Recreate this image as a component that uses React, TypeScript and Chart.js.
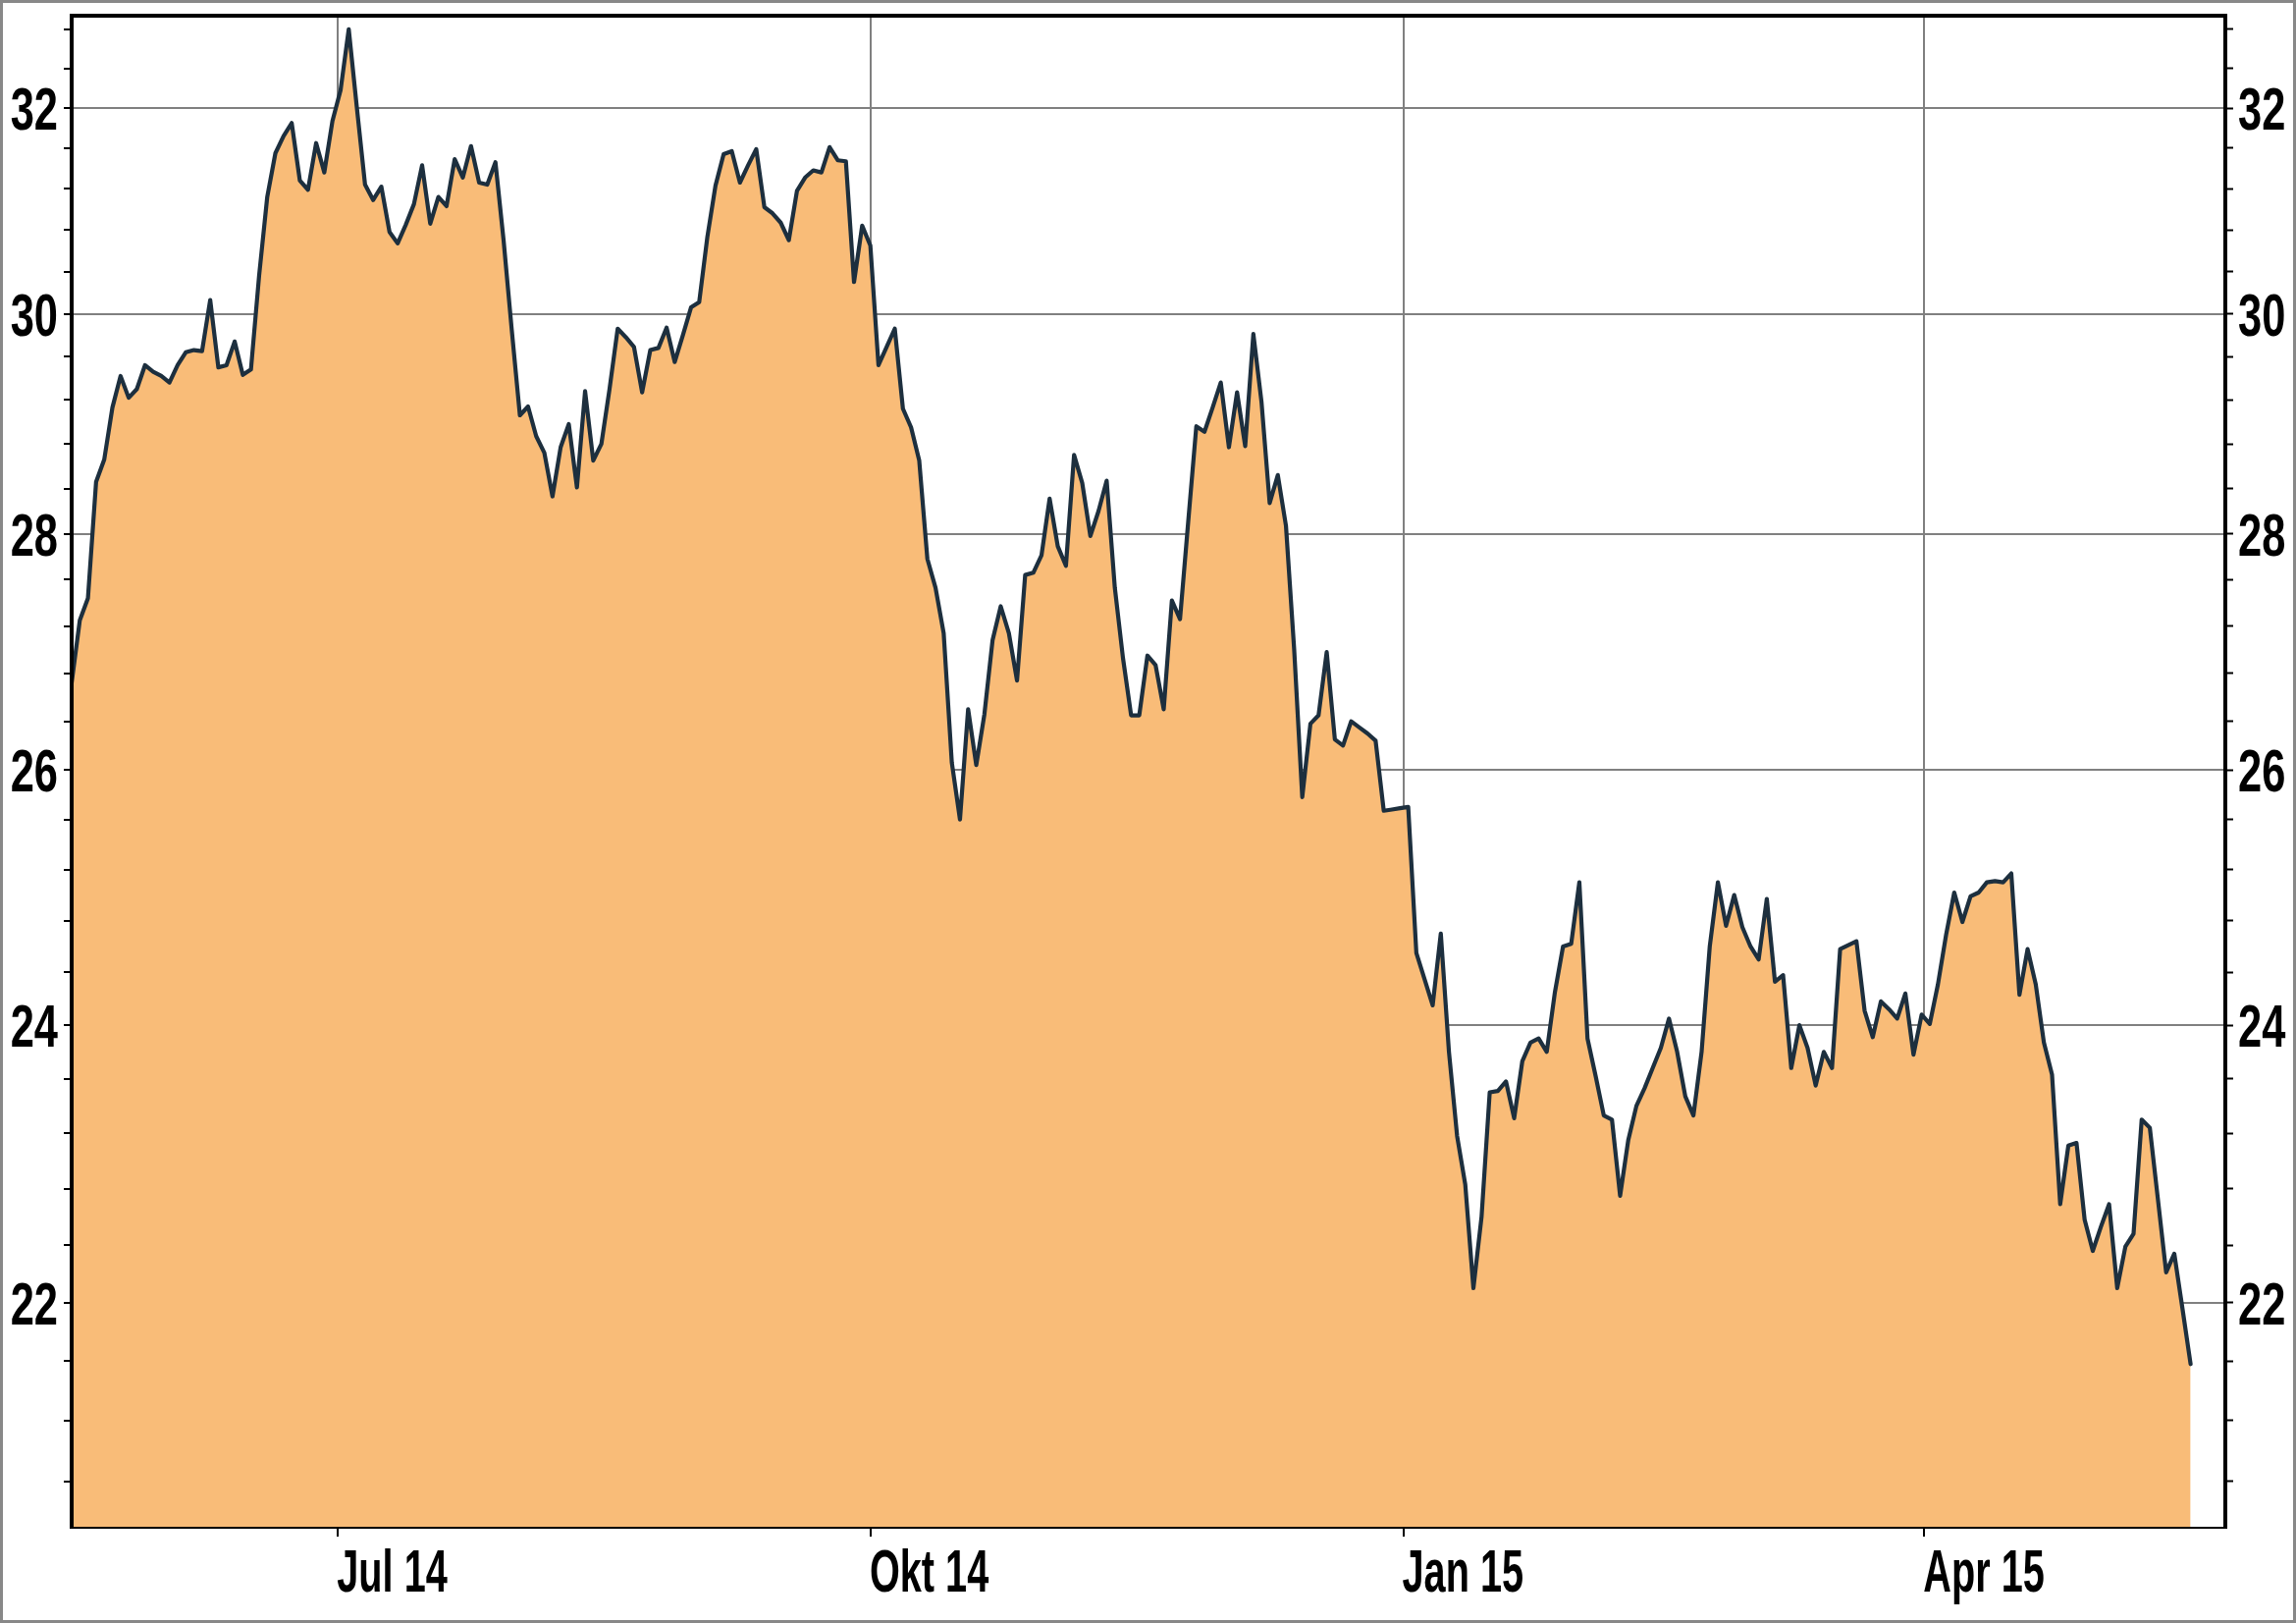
import React, { useEffect, useRef } from 'react';
import { Chart, registerables } from 'chart.js';

Chart.register(...registerables);

// ---------- data ----------
const START_DATE = '2014-05-16'; // first close shown
const END_DATE = '2015-05-17'; // last close shown (closes spread evenly in between)
const AXIS_END_DATE = '2015-05-23'; // time axis runs a few days past the last close

const PRICES: number[] = [
  // 0-45
  26.72, 27.25, 27.44, 28.46, 28.66, 29.13, 29.42, 29.22, 29.30, 29.52,
  29.46, 29.42, 29.36, 29.52, 29.64, 29.66, 29.65, 30.13, 29.50, 29.52,
  29.74, 29.43, 29.48, 30.36, 31.12, 31.55, 31.72, 31.85, 31.28, 31.19,
  31.65, 31.36, 31.87, 32.18, 32.80, 32.00, 31.24, 31.09, 31.22, 30.78,
  30.67, 30.85, 31.05, 31.43, 30.86, 31.12,
  // 46-90
  31.03, 31.49, 31.31, 31.62, 31.26, 31.24, 31.46, 30.70, 29.85, 29.06,
  29.14, 28.87, 28.72, 28.33, 28.77, 28.98, 28.41, 29.28, 28.65, 28.80,
  29.30, 29.86, 29.78, 29.69, 29.27, 29.66, 29.68, 29.87, 29.55, 29.80,
  30.06, 30.11, 30.73, 31.23, 31.54, 31.57, 31.26, 31.43, 31.59, 31.02,
  30.96, 30.87, 30.70, 31.18, 31.31,
  // 91-135
  31.38, 31.36, 31.61, 31.48, 31.47, 30.30, 30.84, 30.65, 29.52,
  29.69, 29.86, 29.12, 28.95, 28.65, 27.78, 27.53, 27.14, 26.06, 25.60,
  26.50, 26.04, 26.46, 27.08, 27.37, 27.14, 26.74, 27.64, 27.66, 27.81,
  28.31, 27.89, 27.72, 28.70, 28.45, 27.98, 28.20, 28.47, 27.53, 26.93,
  26.45, 26.45, 26.95, 26.87, 26.50, 27.42,
  // 136-150
  27.26, 28.10, 28.96, 28.91, 29.13, 29.36, 28.77, 29.27, 28.78, 29.81,
  29.18, 28.27, 28.52, 28.07, 27.01,
  // 151-164
  25.78, 26.38, 26.45, 26.98, 26.25, 26.20, 26.40, 26.35, 26.30, 26.24,
  25.67, 25.68, 25.69, 25.70,
  // 165-172
  24.55, 24.35, 24.15, 24.70, 23.80, 23.18, 22.83, 22.10,
  // 173-217
  22.60, 23.50, 23.51, 23.58, 23.31, 23.73, 23.87, 23.90, 23.80, 24.25,
  24.60, 24.62, 25.10, 23.90, 23.62, 23.33, 23.30, 22.75, 23.15, 23.40,
  23.53, 23.68, 23.83, 24.05, 23.80, 23.47, 23.33, 23.80, 24.60, 25.10,
  24.76, 25.00, 24.75, 24.60, 24.50, 24.97, 24.33, 24.38, 23.68, 24.00,
  23.83, 23.55, 23.80, 23.68, 24.58,
  // 218-260
  24.61, 24.64, 24.11, 23.91, 24.18, 24.12, 24.05, 24.24, 23.78, 24.08,
  24.01, 24.31, 24.69, 25.02, 24.79, 24.99, 25.02, 25.10, 25.11, 25.10,
  25.17, 24.23, 24.58, 24.31, 23.87, 23.63, 22.69, 23.11, 23.13, 22.58,
  22.36, 22.53, 22.69, 22.10, 22.39, 22.48, 23.30, 23.24, 22.72, 22.21,
  22.34, 21.96, 21.58,
];

const MONTH_NAMES = ['Jan', 'Feb', 'Mär', 'Apr', 'Mai', 'Jun', 'Jul', 'Aug', 'Sep', 'Okt', 'Nov', 'Dez'];
const LABELED_MONTHS = [0, 3, 6, 9]; // Jan, Apr, Jul, Okt
const Y_MAJOR_STEP = 2;
const Y_MINOR_STEP = 0.4;
const Y_MIN = 20.5;
const Y_MAX = 32.94;

// ---------- derived ----------
const DAY = 86400000;
const toMs = (s: string) => new Date(s + 'T00:00:00Z').getTime();
const T0 = toMs(START_DATE);
const SPAN = (toMs(END_DATE) - T0) / DAY;
const AXIS_MAX = (toMs(AXIS_END_DATE) - T0) / DAY;
const POINTS = PRICES.map((v, i) => ({ x: (i * SPAN) / (PRICES.length - 1), y: v }));

const X_TICKS: { value: number; label: string }[] = [];
{
  const d = new Date(T0);
  d.setUTCDate(1);
  while (d.getTime() <= toMs(AXIS_END_DATE)) {
    d.setUTCMonth(d.getUTCMonth() + 1);
    const m = d.getUTCMonth();
    const day = (d.getTime() - T0) / DAY;
    if (LABELED_MONTHS.includes(m) && day > 0 && day < AXIS_MAX) {
      X_TICKS.push({ value: day, label: `${MONTH_NAMES[m]} ${String(d.getUTCFullYear()).slice(2)}` });
    }
  }
}

const Y_TICKS: number[] = [];
for (let k = Math.ceil(Y_MIN / Y_MINOR_STEP - 1e-9); k * Y_MINOR_STEP <= Y_MAX + 1e-9; k++) {
  Y_TICKS.push(Math.round(k * Y_MINOR_STEP * 10) / 10);
}
const isMajor = (v: number) => Math.abs(v / Y_MAJOR_STEP - Math.round(v / Y_MAJOR_STEP)) < 1e-6;

// ---------- style ----------
const W = 2339;
const H = 1653;
const FILL = '#F9BC78';
const LINE = '#1d2f3e';
const GRID = '#808080';
const FONT_FAMILY = '"Liberation Sans", Arial, sans-serif';
const LABEL_PX = 62;
const Y_LABEL_SX = 0.7;
const X_LABEL_SX = 0.64;
const FRAME_W = 4;

const axisLabelsPlugin = {
  id: 'axisLabels',
  afterDraw(chart: any) {
    const { ctx, chartArea } = chart;
    ctx.save();
    // top frame line of the plot area
    ctx.strokeStyle = '#000';
    ctx.lineWidth = FRAME_W;
    ctx.beginPath();
    ctx.moveTo(chartArea.left - FRAME_W / 2, chartArea.top);
    ctx.lineTo(chartArea.right + FRAME_W / 2, chartArea.top);
    ctx.stroke();

    ctx.fillStyle = '#000';
    ctx.font = `bold ${LABEL_PX}px ${FONT_FAMILY}`;
    ctx.textBaseline = 'alphabetic';
    const cap = LABEL_PX * 0.716;
    const draw = (text: string, x: number, y: number, align: CanvasTextAlign, sx: number) => {
      ctx.save();
      ctx.translate(x, y);
      ctx.scale(sx, 1);
      ctx.textAlign = align;
      ctx.fillText(text, 0, 0);
      ctx.restore();
    };
    const ys = chart.scales.y;
    ys.ticks.forEach((t: any) => {
      if (!isMajor(t.value)) return;
      const py = ys.getPixelForValue(t.value);
      const label = String(Math.round(t.value));
      draw(label, chartArea.left - 14, py + cap / 2, 'right', Y_LABEL_SX);
      draw(label, chartArea.right + 13, py + cap / 2, 'left', Y_LABEL_SX);
    });
    const xs = chart.scales.x;
    xs.ticks.forEach((t: any) => {
      const tk = X_TICKS.find((q) => Math.abs(q.value - t.value) < 1e-6);
      if (!tk) return;
      const px = xs.getPixelForValue(t.value);
      draw(tk.label, px - 1, chartArea.bottom + 65, 'left', X_LABEL_SX);
    });
    ctx.restore();
  },
};

export default function App() {
  const ref = useRef<HTMLCanvasElement>(null);

  useEffect(() => {
    const canvas = ref.current;
    if (!canvas) return;
    const chart = new Chart(canvas, {
      type: 'line',
      data: {
        datasets: [
          {
            data: POINTS,
            borderColor: LINE,
            borderWidth: 4.2,
            borderJoinStyle: 'round',
            borderCapStyle: 'round',
            backgroundColor: FILL,
            fill: 'start',
            pointRadius: 0,
            tension: 0,
            yAxisID: 'y',
          },
        ],
      },
      options: {
        responsive: false,
        maintainAspectRatio: false,
        animation: false,
        devicePixelRatio: 1,
        events: [],
        layout: { padding: { top: 16, left: 0, right: 0, bottom: 0 } },
        plugins: { legend: { display: false }, tooltip: { enabled: false } },
        scales: {
          x: {
            type: 'linear',
            min: 0,
            max: AXIS_MAX,
            afterBuildTicks: (s: any) => {
              s.ticks = X_TICKS.map((t) => ({ value: t.value }));
            },
            afterFit: (s: any) => {
              s.height = 97;
            },
            ticks: { display: false },
            grid: { color: GRID, lineWidth: 2, tickColor: '#000', tickLength: 9, tickWidth: 2 },
            border: { display: true, color: '#000', width: 2, z: 1 },
          },
          y: {
            type: 'logarithmic',
            position: 'left',
            min: Y_MIN,
            max: Y_MAX,
            afterBuildTicks: (s: any) => {
              s.ticks = Y_TICKS.map((v) => ({ value: v }));
            },
            afterFit: (s: any) => {
              s.width = 73;
            },
            ticks: { display: false },
            grid: {
              color: (c: any) => (c.tick && isMajor(c.tick.value) ? GRID : 'rgba(0,0,0,0)'),
              lineWidth: 2,
              tickColor: '#000',
              tickLength: 8,
              tickWidth: 2,
            },
            border: { display: true, color: '#000', width: FRAME_W, z: 1 },
          },
          y2: {
            type: 'logarithmic',
            position: 'right',
            min: Y_MIN,
            max: Y_MAX,
            afterBuildTicks: (s: any) => {
              s.ticks = Y_TICKS.map((v) => ({ value: v }));
            },
            afterFit: (s: any) => {
              s.width = 72;
            },
            ticks: { display: false },
            grid: { drawOnChartArea: false, tickColor: '#000', tickLength: 8, tickWidth: 2 },
            border: { display: true, color: '#000', width: FRAME_W, z: 1 },
          },
        },
      } as any,
      plugins: [axisLabelsPlugin],
    });
    return () => chart.destroy();
  }, []);

  return (
    <div style={{ position: 'fixed', left: 0, top: 0, width: W, height: H, background: '#fff' }}>
      <canvas
        ref={ref}
        width={W}
        height={H}
        style={{ position: 'absolute', left: 0, top: 0, width: W, height: H }}
      />
      <div
        style={{
          position: 'absolute',
          left: 0,
          top: 0,
          width: W,
          height: H,
          border: '3px solid #888',
          boxSizing: 'border-box',
          pointerEvents: 'none',
        }}
      />
    </div>
  );
}
